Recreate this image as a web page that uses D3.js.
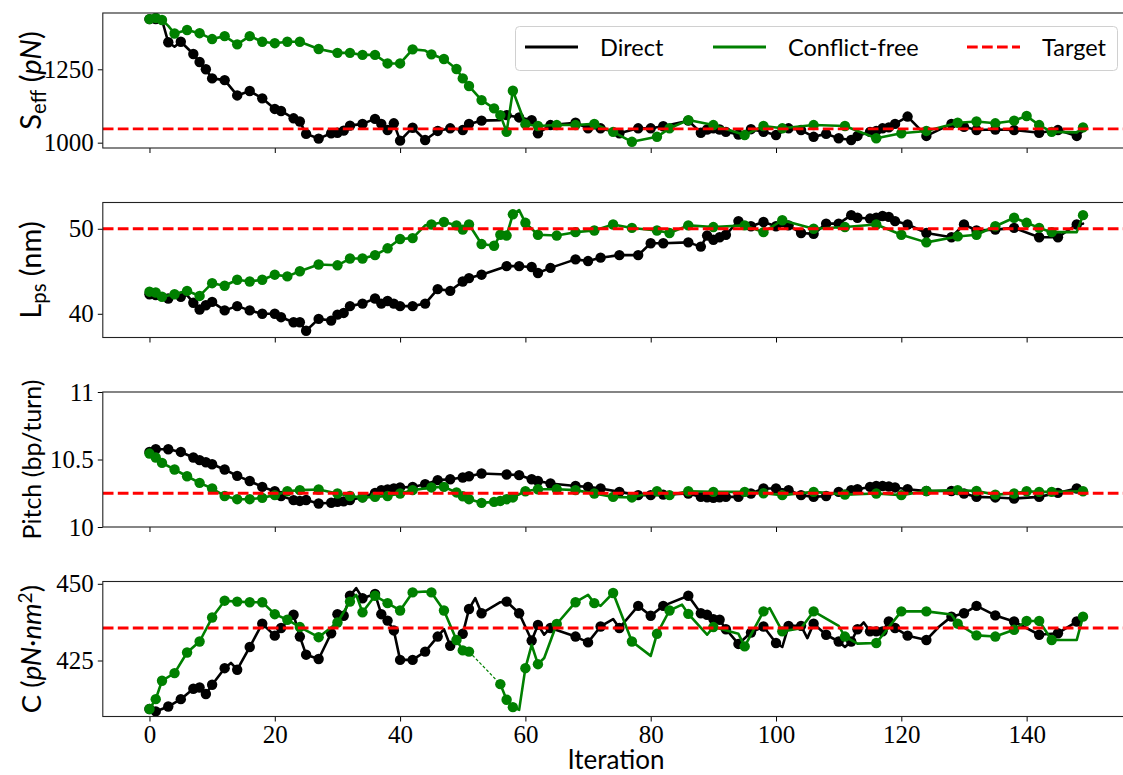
<!DOCTYPE html>
<html>
<head>
<meta charset="utf-8">
<script src="https://cdn.jsdelivr.net/npm/d3@7"></script>
<style>
  body { margin: 0; background: #fff; }
  svg { display: block; }
</style>
</head>
<body>
<svg id="chart" width="1123" height="775"></svg>
<script>
// ---- shared x axis ----
const iterationTicks = [0, 20, 40, 60, 80, 100, 120, 140];

// iterations at which each run's accepted points are marked
const directMarkers = [0,1,3,5,7,8,9,10,12,14,16,18,20,21,23,24,25,27,29,30,31,32,34,36,37,38,39,40,42,44,46,48,50,51,53,57,59,61,62,64,68,70,72,75,78,80,82,86,88,89,90,91,92,94,96,98,100,102,104,106,108,110,112,113,115,116,117,118,119,121,124,128,130,132,135,138,142,145,148];
const conflictFreeMarkers = [0,1,2,4,6,8,10,12,14,16,18,20,22,24,27,30,32,34,36,38,40,42,45,47,49,50,51,53,55,56,57,58,60,62,65,68,71,74,77,81,83,86,90,95,98,101,106,111,116,120,124,129,132,135,138,140,142,144,149];

// ---- S_eff (pN): [iteration, value] ----
const directSeff = [[0,1421],[1,1421],[2,1418],[3,1342],[4,1327],[5,1344],[7,1302],[8,1275],[9,1250],[10,1219],[12,1213],[14,1161],[16,1176],[18,1151],[20,1115],[21,1108],[23,1083],[24,1072],[25,1030],[27,1014],[29,1032],[30,1034],[31,1041],[32,1058],[34,1064],[36,1081],[37,1064],[38,1043],[39,1066],[40,1007],[42,1051],[44,1009],[46,1040],[48,1049],[50,1043],[51,1064],[53,1075],[56,1077],[57,1094],[59,1086],[61,1077],[62,1032],[64,1060],[68,1068],[70,1049],[72,1049],[75,1032],[78,1049],[80,1049],[82,1056],[86,1075],[88,1034],[89,1045],[90,1049],[91,1045],[92,1037],[94,1028],[96,1046],[98,1037],[100,1026],[102,1049],[104,1043],[106,1020],[108,1030],[110,1015],[112,1009],[113,1023],[115,1037],[116,1040],[117,1049],[118,1052],[119,1064],[121,1089],[124,1023],[128,1064],[130,1054],[132,1043],[135,1045],[138,1043],[142,1034],[145,1043],[148,1023],[149,1040]];
const conflictFreeSeff = [[0,1421],[1,1425],[2,1418],[3,1398],[4,1372],[6,1384],[8,1373],[10,1353],[12,1363],[14,1335],[16,1363],[18,1344],[20,1339],[22,1344],[24,1344],[27,1319],[30,1306],[32,1306],[34,1299],[36,1299],[38,1270],[40,1270],[42,1318],[44,1314],[45,1301],[47,1285],[49,1251],[50,1219],[51,1193],[53,1145],[55,1117],[56,1094],[57,1037],[58,1177],[60,1063],[62,1057],[65,1060],[68,1060],[71,1064],[74,1037],[77,1003],[81,1020],[83,1049],[86,1077],[90,1060],[95,1026],[98,1057],[101,1049],[106,1060],[111,1057],[116,1015],[120,1032],[124,1040],[129,1068],[132,1072],[135,1066],[138,1075],[140,1091],[142,1060],[144,1037],[148,1035],[149,1052]];
const targetSeff = 1047;
const seffTicks = [1000, 1250];

// ---- L_ps (nm) ----
const directLps = [[0,42.3],[1,42.2],[3,41.8],[5,42.0],[6,42.2],[7,41.3],[8,40.5],[9,41.0],[10,41.4],[12,40.4],[14,40.9],[16,40.4],[18,40.0],[20,40.0],[21,39.6],[23,39.0],[24,39.0],[25,38.0],[27,39.4],[29,39.2],[30,39.9],[31,40.1],[32,40.9],[34,41.2],[36,41.8],[37,41.2],[38,41.5],[39,41.2],[40,40.9],[42,40.9],[44,41.2],[46,42.9],[48,42.7],[50,43.8],[51,44.2],[53,44.6],[57,45.6],[59,45.6],[61,45.5],[62,44.8],[64,45.4],[68,46.4],[70,46.2],[72,46.6],[75,46.9],[78,46.9],[80,48.3],[82,48.3],[86,48.4],[88,47.9],[89,49.2],[90,48.7],[91,49.0],[92,49.3],[94,50.9],[96,50.3],[98,50.8],[100,50.3],[102,50.4],[104,49.5],[106,49.4],[108,50.6],[110,50.6],[112,51.6],[113,51.3],[115,51.2],[116,51.3],[117,51.5],[118,51.4],[119,50.9],[121,50.5],[124,49.5],[128,49.0],[130,50.5],[132,49.8],[135,49.9],[138,50.1],[142,49.0],[145,49.0],[148,50.5],[149,50.6]];
const conflictFreeLps = [[0,42.6],[1,42.5],[2,42.0],[4,42.3],[6,42.7],[8,42.1],[10,43.6],[12,43.3],[14,44.0],[16,43.8],[18,44.0],[20,44.6],[22,44.4],[24,45.0],[27,45.8],[30,45.7],[32,46.5],[34,46.5],[36,46.9],[38,47.7],[40,48.8],[42,48.9],[44,50.4],[45,50.5],[47,50.8],[49,50.4],[50,49.9],[51,50.5],[53,48.2],[55,48.0],[56,49.3],[57,49.2],[58,51.7],[59,52.2],[60,50.7],[62,49.3],[65,49.2],[68,49.6],[71,49.8],[74,50.5],[77,50.1],[81,49.8],[83,49.5],[86,50.4],[90,50.2],[95,50.4],[98,49.6],[101,51.0],[106,50.0],[111,50.2],[116,50.5],[120,49.3],[124,48.4],[129,49.1],[132,49.3],[135,50.3],[138,51.3],[140,50.7],[142,50.1],[144,49.6],[148,49.6],[149,51.6]];
const targetLps = 50;
const lpsTicks = [40, 50];

// ---- Pitch (bp/turn) ----
const directPitch = [[0,10.556],[1,10.576],[3,10.576],[5,10.556],[7,10.515],[8,10.495],[9,10.48],[10,10.465],[12,10.426],[14,10.379],[16,10.341],[18,10.297],[20,10.265],[21,10.23],[23,10.199],[24,10.193],[25,10.2],[27,10.174],[29,10.18],[30,10.186],[31,10.19],[32,10.2],[34,10.22],[36,10.253],[37,10.273],[38,10.278],[39,10.285],[40,10.293],[42,10.297],[44,10.317],[46,10.347],[48,10.354],[50,10.367],[51,10.376],[53,10.396],[57,10.389],[59,10.384],[61,10.354],[62,10.341],[64,10.322],[68,10.304],[70,10.297],[72,10.285],[75,10.26],[78,10.236],[80,10.236],[82,10.24],[86,10.248],[88,10.223],[89,10.22],[90,10.216],[91,10.22],[92,10.223],[94,10.223],[96,10.248],[98,10.285],[100,10.285],[102,10.273],[104,10.236],[106,10.223],[108,10.23],[110,10.26],[112,10.273],[113,10.28],[115,10.297],[116,10.304],[117,10.304],[118,10.3],[119,10.293],[121,10.28],[124,10.267],[128,10.267],[130,10.248],[132,10.223],[135,10.219],[138,10.211],[142,10.223],[145,10.253],[148,10.285],[149,10.273]];
const conflictFreePitch = [[0,10.544],[1,10.515],[2,10.475],[4,10.426],[6,10.376],[8,10.327],[10,10.285],[12,10.23],[14,10.206],[16,10.206],[18,10.216],[20,10.236],[22,10.265],[24,10.273],[27,10.278],[30,10.248],[32,10.23],[34,10.219],[36,10.223],[38,10.23],[40,10.248],[42,10.273],[45,10.293],[47,10.297],[49,10.256],[50,10.228],[51,10.206],[53,10.179],[55,10.186],[56,10.193],[57,10.206],[58,10.219],[60,10.265],[62,10.28],[65,10.28],[68,10.273],[71,10.248],[74,10.223],[77,10.219],[81,10.265],[83,10.236],[86,10.265],[90,10.26],[95,10.26],[98,10.25],[101,10.236],[106,10.26],[111,10.24],[116,10.248],[120,10.236],[124,10.267],[129,10.273],[132,10.267],[135,10.24],[138,10.248],[140,10.265],[142,10.26],[144,10.26],[149,10.265]];
const targetPitch = 10.25;
const pitchTicks = [10, 10.5, 11];

// ---- C (pN nm^2) ----
const directC = [[0,409.2],[1,408.4],[3,410.0],[5,412.4],[7,415.8],[8,416.2],[9,414.1],[10,417.1],[12,422.5],[13,424.2],[14,422.0],[16,429.4],[18,437.0],[20,433.1],[21,435.6],[23,439.9],[24,432.8],[25,426.9],[27,425.5],[29,433.9],[30,440.1],[31,439.6],[32,446.1],[33,448.6],[34,445.3],[36,446.7],[37,440.1],[38,438.0],[39,434.8],[40,425.2],[42,425.2],[44,427.9],[46,432.8],[47,435.2],[48,429.8],[50,433.7],[51,441.8],[52,445.3],[53,440.4],[56,444.0],[57,444.2],[59,440.4],[61,431.5],[62,436.6],[63,433.4],[64,435.6],[68,432.8],[70,430.9],[72,436.1],[74,438.5],[75,435.6],[78,442.8],[80,439.6],[82,442.8],[86,446.1],[88,440.4],[89,439.9],[90,438.5],[91,438.3],[92,435.2],[94,430.4],[96,434.1],[98,436.1],[100,430.7],[101,429.4],[102,436.3],[104,436.3],[105,432.3],[106,437.0],[108,433.4],[110,431.2],[111,429.4],[112,431.2],[113,435.2],[114,437.4],[115,434.5],[116,434.5],[117,434.5],[118,437.7],[119,435.6],[121,433.1],[124,431.7],[126,436.0],[128,439.3],[130,440.4],[132,442.8],[135,439.7],[138,437.7],[142,433.4],[145,433.9],[148,437.7],[149,438.5]];
const conflictFreeC = [[0,409.2],[1,412.4],[2,418.4],[4,420.9],[6,427.6],[8,431.2],[10,439.0],[12,444.5],[14,444.2],[16,444.0],[18,444.0],[20,440.1],[22,438.3],[24,435.9],[27,432.6],[30,437.4],[32,444.2],[33,446.4],[34,440.7],[36,446.1],[38,443.7],[40,441.3],[42,447.2],[44,447.5],[45,447.2],[47,441.3],[49,431.7],[50,428.3],[51,427.9],[53,null],[55,null],[56,417.3],[57,412.2],[58,409.8],[59,408.9],[60,422.5],[61,430.1],[62,423.8],[63,425.8],[65,436.9],[68,444.0],[70,446.4],[71,443.7],[72,442.8],[74,447.0],[77,431.2],[80,426.5],[81,433.7],[83,441.3],[85,443.2],[86,440.2],[89,433.4],[90,435.9],[94,433.7],[95,429.6],[98,441.0],[99,442.1],[101,434.5],[104,435.5],[106,441.0],[110,436.3],[111,432.8],[113,430.5],[116,430.7],[120,441.0],[124,441.0],[128,440.0],[129,437.0],[132,433.2],[135,432.8],[138,435.0],[140,437.9],[142,437.9],[144,431.7],[148,431.7],[149,439.3]];
const targetC = 435.6;
const cTicks = [425, 450];

const legendLabels = ["Direct", "Conflict-free", "Target"];

// ---- styling ----
const colDirect = "#000000", colCF = "#008000", colTarget = "#ff0000";
const sansFont = "Lato, 'Noto Sans', sans-serif";
const serifFont = "'Liberation Serif', 'DejaVu Serif', serif";

const svg = d3.select("#chart");
const x = d3.scaleLinear().domain([-7.45, 156.45]).range([102.8, 1129.7]);
const panelTops = [13, 202.5, 392, 581.5];
const panelH = 135;

const panels = [
  { direct: directSeff, cf: conflictFreeSeff, target: targetSeff, domain: [981.9, 1441.8], ticks: seffTicks,
    labelSize: 29, label: [["S", null], ["eff", "sub"], [" (", null], ["pN", "it"], [")", null]] },
  { direct: directLps, cf: conflictFreeLps, target: targetLps, domain: [37.21, 53.09], ticks: lpsTicks,
    labelSize: 29, label: [["L", null], ["ps", "sub"], [" (nm)", null]] },
  { direct: directPitch, cf: conflictFreePitch, target: targetPitch, domain: [10, 11], ticks: pitchTicks,
    labelSize: 25, label: [["Pitch (bp/turn)", null]] },
  { direct: directC, cf: conflictFreeC, target: targetC, domain: [406.75, 450.75], ticks: cTicks,
    labelSize: 27.5, label: [["C (", null], ["pN\u00B7nm", "it"], ["2", "sup"], [")", null]] }
];

const dirSet = new Set(directMarkers), cfSet = new Set(conflictFreeMarkers);

panels.forEach((p, i) => {
  const top = panelTops[i], bottom = top + panelH;
  const y = d3.scaleLinear().domain(p.domain).range([bottom, top]);
  const g = svg.append("g");

  const clipId = "clip" + i;
  svg.append("clipPath").attr("id", clipId)
    .append("rect").attr("x", x.range()[0]).attr("y", top).attr("width", x.range()[1] - x.range()[0]).attr("height", panelH);

  const plot = g.append("g").attr("clip-path", `url(#${clipId})`);
  const line = d3.line().defined(d => d[1] != null).x(d => x(d[0])).y(d => y(d[1]));

  function drawSeries(data, markSet, color) {
    // thin dashed connectors across missing values
    const defined = data.filter(d => d[1] != null);
    for (let k = 1; k < data.length; k++) {
      if (data[k][1] == null && data[k - 1][1] != null) {
        let b = k; while (b < data.length && data[b][1] == null) b++;
        if (b < data.length) {
          plot.append("line")
            .attr("x1", x(data[k - 1][0])).attr("y1", y(data[k - 1][1]))
            .attr("x2", x(data[b][0])).attr("y2", y(data[b][1]))
            .attr("stroke", color).attr("stroke-width", 1.2).attr("stroke-dasharray", "3,2");
        }
      }
    }
    plot.append("path").datum(data).attr("d", line)
      .attr("fill", "none").attr("stroke", color).attr("stroke-width", 2.6)
      .attr("stroke-linejoin", "round").attr("stroke-linecap", "round");
    plot.selectAll(null).data(defined.filter(d => markSet.has(d[0]))).enter()
      .append("circle").attr("cx", d => x(d[0])).attr("cy", d => y(d[1])).attr("r", 5.2)
      .attr("fill", color);
  }
  drawSeries(p.direct, dirSet, colDirect);
  drawSeries(p.cf, cfSet, colCF);

  plot.append("line")
    .attr("x1", x.range()[0]).attr("x2", x.range()[1])
    .attr("y1", y(p.target)).attr("y2", y(p.target))
    .attr("stroke", colTarget).attr("stroke-width", 2.8).attr("stroke-dasharray", "10.7,4.3");

  // axes
  const yAxis = d3.axisLeft(y).tickValues(p.ticks).tickSize(5).tickPadding(4)
    .tickFormat(d3.format("~g"));
  const ya = g.append("g").attr("transform", `translate(${x.range()[0]},0)`).call(yAxis);
  ya.select(".domain").remove();
  ya.selectAll("text").attr("font-family", serifFont).attr("font-size", 25).attr("fill", "#000");

  const xAxis = d3.axisBottom(x).tickValues(iterationTicks).tickSize(5).tickPadding(4)
    .tickFormat(i === panels.length - 1 ? d3.format("d") : () => "");
  const xa = g.append("g").attr("transform", `translate(0,${bottom})`).call(xAxis);
  xa.select(".domain").remove();
  xa.selectAll("text").attr("font-family", serifFont).attr("font-size", 25).attr("fill", "#000");

  // spines
  g.append("rect").attr("x", x.range()[0]).attr("y", top)
    .attr("width", x.range()[1] - x.range()[0]).attr("height", panelH)
    .attr("fill", "none").attr("stroke", "#222").attr("stroke-width", 1.1);

  // y label
  const lab = g.append("text")
    .attr("transform", `translate(41,${top + panelH / 2}) rotate(-90)`)
    .attr("text-anchor", "middle").attr("font-family", sansFont).attr("font-size", p.labelSize).attr("fill", "#000");
  p.label.forEach(([t, kind]) => {
    const ts = lab.append("tspan").text(t);
    if (kind === "sub") ts.attr("font-size", p.labelSize * 0.7).attr("baseline-shift", "-25%");
    if (kind === "sup") ts.attr("font-size", p.labelSize * 0.7).attr("baseline-shift", "45%");
    if (kind === "it") ts.attr("font-style", "italic");
  });
});

// x label
svg.append("text").attr("x", 616).attr("y", 769).attr("text-anchor", "middle")
  .attr("font-family", sansFont).attr("font-size", 26).attr("fill", "#000").text("Iteration");

// legend
const legend = svg.append("g");
legend.append("rect").attr("x", 515.5).attr("y", 26.5).attr("width", 602).attr("height", 44).attr("rx", 4)
  .attr("fill", "#fff").attr("fill-opacity", 0.8).attr("stroke", "#d0d0d0").attr("stroke-width", 1);
const legendX = [525, 713, 967];
const legendStyles = [
  { color: colDirect, dash: null },
  { color: colCF, dash: null },
  { color: colTarget, dash: "10.7,4.3" }
];
legendLabels.forEach((lbl, k) => {
  const lx = legendX[k];
  legend.append("line").attr("x1", lx).attr("x2", lx + 53).attr("y1", 47).attr("y2", 47)
    .attr("stroke", legendStyles[k].color).attr("stroke-width", 2.8)
    .attr("stroke-dasharray", legendStyles[k].dash);
  legend.append("text").attr("x", lx + 75).attr("y", 56).attr("font-family", sansFont)
    .attr("font-size", 23.5).attr("fill", "#000").text(lbl);
});
</script>
</body>
</html>
